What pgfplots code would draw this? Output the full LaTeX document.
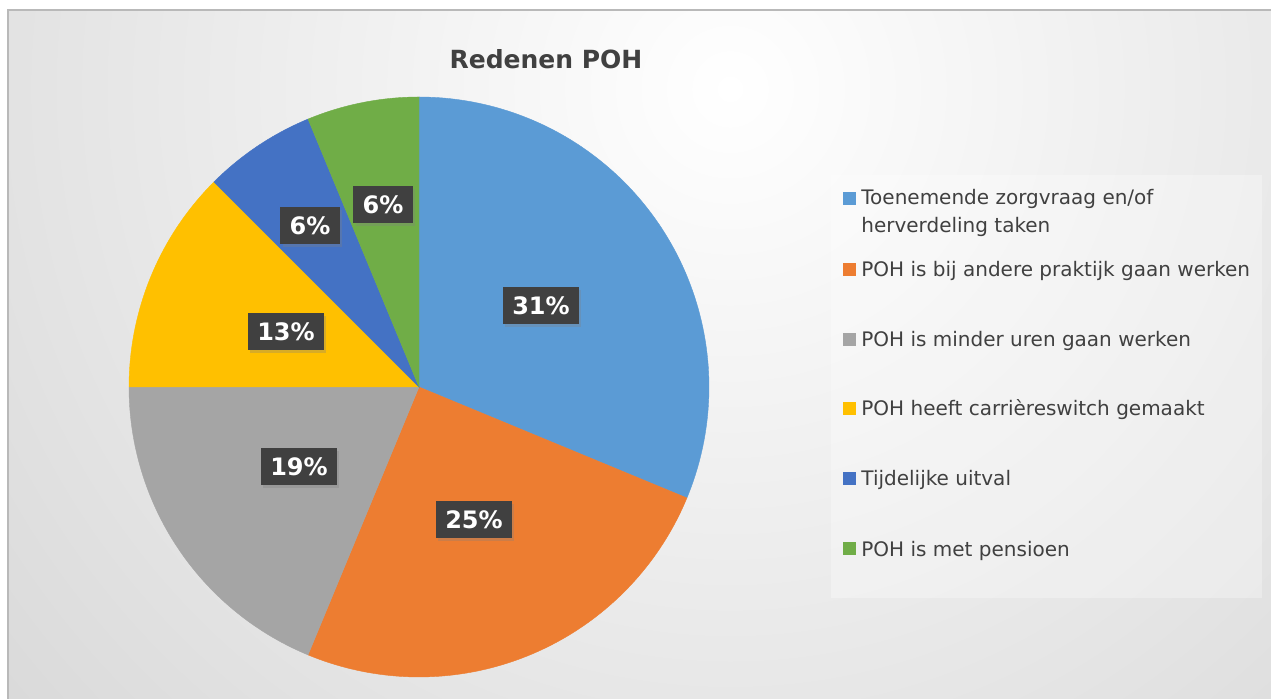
\documentclass[border=0pt]{standalone}
\usepackage{pgfplots}
\pgfplotsset{compat=1.18}
\usepackage{fontspec}
\setmainfont{DejaVu Sans}
\usetikzlibrary{shadows}
\definecolor{cA}{HTML}{5B9BD5}
\definecolor{cB}{HTML}{ED7D31}
\definecolor{cC}{HTML}{A5A5A5}
\definecolor{cD}{HTML}{FFC000}
\definecolor{cE}{HTML}{4472C4}
\definecolor{cF}{HTML}{70AD47}
\definecolor{txt}{HTML}{404040}
\definecolor{lbl}{HTML}{404040}
\definecolor{bgout}{HTML}{C4C4C4}
% counts per reason (16 responses)
\def\vA{5}\def\vB{4}\def\vC{3}\def\vD{2}\def\vE{1}\def\vF{1}
\def\vT{16}
\pgfmathsetmacro{\aA}{90}
\pgfmathsetmacro{\aB}{\aA-\vA/\vT*360}
\pgfmathsetmacro{\aC}{\aB-\vB/\vT*360}
\pgfmathsetmacro{\aD}{\aC-\vC/\vT*360}
\pgfmathsetmacro{\aE}{\aD-\vD/\vT*360}
\pgfmathsetmacro{\aF}{\aE-\vE/\vT*360}
\pgfmathsetmacro{\aG}{\aF-\vF/\vT*360}
\begin{document}
\begin{tikzpicture}[x=0.5pt,y=0.5pt]
\useasboundingbox (0,0) rectangle (1271,699);
\fill[white] (0,0) rectangle (1271,699);
\begin{scope}
\clip (8,0) rectangle (1271,689);
\shade[inner color=white, outer color=bgout] (730,610) circle (1500);
\end{scope}
\draw[gray!55, line width=0.8pt] (8,0) -- (8,689) -- (1271,689);
\begin{axis}[
  at={(0,0)}, anchor=south west,
  scale only axis, width=635.5pt, height=349.5pt,
  xmin=0, xmax=1271, ymin=0, ymax=699,
  hide axis, clip=false,
]
\addplot[fill=cA, draw=cA, line width=0.2pt, domain=\aB:\aA, samples=90, variable=\t]
  ({419+290*cos(\t)}, {312+290*sin(\t)}) -- (axis cs:419,312) -- cycle;
\addplot[fill=cB, draw=cB, line width=0.2pt, domain=\aC:\aB, samples=80, variable=\t]
  ({419+290*cos(\t)}, {312+290*sin(\t)}) -- (axis cs:419,312) -- cycle;
\addplot[fill=cC, draw=cC, line width=0.2pt, domain=\aD:\aC, samples=70, variable=\t]
  ({419+290*cos(\t)}, {312+290*sin(\t)}) -- (axis cs:419,312) -- cycle;
\addplot[fill=cD, draw=cD, line width=0.2pt, domain=\aE:\aD, samples=50, variable=\t]
  ({419+290*cos(\t)}, {312+290*sin(\t)}) -- (axis cs:419,312) -- cycle;
\addplot[fill=cE, draw=cE, line width=0.2pt, domain=\aF:\aE, samples=30, variable=\t]
  ({419+290*cos(\t)}, {312+290*sin(\t)}) -- (axis cs:419,312) -- cycle;
\addplot[fill=cF, draw=cF, line width=0.2pt, domain=\aG:\aF, samples=30, variable=\t]
  ({419+290*cos(\t)}, {312+290*sin(\t)}) -- (axis cs:419,312) -- cycle;

% title
\node[anchor=base, text=txt, font=\fontsize{12.5}{14}\selectfont\bfseries] at (axis cs:546,630) {Redenen POH};

% data labels
\tikzset{dl/.style={fill=lbl, text=white, font=\fontsize{12}{13}\selectfont\bfseries,
  text height=8.7pt, text depth=0pt, inner xsep=4.6pt, minimum height=18.5pt,
  drop shadow={shadow xshift=1.2pt, shadow yshift=-1.2pt, opacity=0.3}}}
\node[dl] at (axis cs:541,393) {31\%};
\node[dl] at (axis cs:474,179) {25\%};
\node[dl] at (axis cs:299,232) {19\%};
\node[dl] at (axis cs:286,367) {13\%};
\node[dl] at (axis cs:310,473) {6\%};
\node[dl] at (axis cs:383,494) {6\%};

% legend
\fill[white, fill opacity=0.3] (axis cs:831,101) rectangle (axis cs:1262,524);
\tikzset{lm/.style={inner sep=0pt, minimum size=6.5pt}, lt/.style={anchor=base west, text=txt, font=\fontsize{10}{14}\selectfont, inner sep=0pt}}
\node[lm, fill=cA] at (axis cs:849.5,500) {};
\node[lm, fill=cB] at (axis cs:849.5,429) {};
\node[lm, fill=cC] at (axis cs:849.5,359) {};
\node[lm, fill=cD] at (axis cs:849.5,290) {};
\node[lm, fill=cE] at (axis cs:849.5,220) {};
\node[lm, fill=cF] at (axis cs:849.5,150) {};
\node[lt] at (axis cs:861,494) {Toenemende zorgvraag en/of};
\node[lt] at (axis cs:861,466) {herverdeling taken};
\node[lt] at (axis cs:861,422) {POH is bij andere praktijk gaan werken};
\node[lt] at (axis cs:861,352) {POH is minder uren gaan werken};
\node[lt] at (axis cs:861,283) {POH heeft carrièreswitch gemaakt};
\node[lt] at (axis cs:861,213) {Tijdelijke uitval};
\node[lt] at (axis cs:861,142) {POH is met pensioen};
\end{axis}
\end{tikzpicture}
\end{document}
